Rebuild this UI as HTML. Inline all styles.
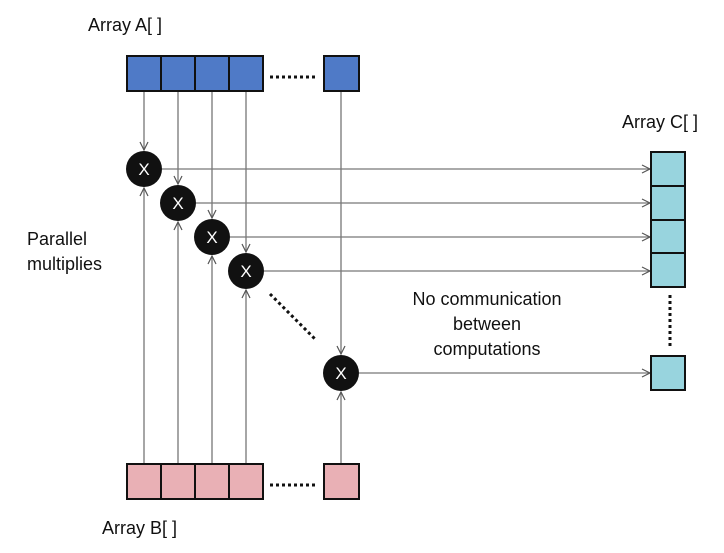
<!DOCTYPE html>
<html><head><meta charset="utf-8"><style>
html,body{margin:0;padding:0;background:#fff;}
svg{display:block;font-family:"Liberation Sans",sans-serif;}
</style></head><body>
<svg width="724" height="553" viewBox="0 0 724 553">
<defs>
<marker id="ah" markerWidth="10" markerHeight="10" refX="9" refY="5" orient="auto" markerUnits="userSpaceOnUse">
<path d="M1,1 L9,5 L1,9" fill="none" stroke="#555" stroke-width="1.2"/>
</marker>
</defs>
<g stroke="#777" stroke-width="1.3" fill="none">
<line x1="144" y1="91" x2="144" y2="150" marker-end="url(#ah)"/>
<line x1="178" y1="91" x2="178" y2="184" marker-end="url(#ah)"/>
<line x1="212" y1="91" x2="212" y2="218" marker-end="url(#ah)"/>
<line x1="246" y1="91" x2="246" y2="252" marker-end="url(#ah)"/>
<line x1="341" y1="91" x2="341" y2="354" marker-end="url(#ah)"/>
<line x1="144" y1="464" x2="144" y2="188" marker-end="url(#ah)"/>
<line x1="178" y1="464" x2="178" y2="222" marker-end="url(#ah)"/>
<line x1="212" y1="464" x2="212" y2="256" marker-end="url(#ah)"/>
<line x1="246" y1="464" x2="246" y2="290" marker-end="url(#ah)"/>
<line x1="341" y1="464" x2="341" y2="392" marker-end="url(#ah)"/>
<line x1="162" y1="169" x2="650" y2="169" marker-end="url(#ah)"/>
<line x1="196" y1="203" x2="650" y2="203" marker-end="url(#ah)"/>
<line x1="230" y1="237" x2="650" y2="237" marker-end="url(#ah)"/>
<line x1="264" y1="271" x2="650" y2="271" marker-end="url(#ah)"/>
<line x1="359" y1="373" x2="650" y2="373" marker-end="url(#ah)"/>
</g>
<g fill="#4f7ac7" stroke="#111" stroke-width="2">
<rect x="127" y="56" width="34" height="35"/><rect x="161" y="56" width="34" height="35"/>
<rect x="195" y="56" width="34" height="35"/><rect x="229" y="56" width="34" height="35"/>
<rect x="324" y="56" width="35" height="35"/>
</g>
<g fill="#e9b0b5" stroke="#111" stroke-width="2">
<rect x="127" y="464" width="34" height="35"/><rect x="161" y="464" width="34" height="35"/>
<rect x="195" y="464" width="34" height="35"/><rect x="229" y="464" width="34" height="35"/>
<rect x="324" y="464" width="35" height="35"/>
</g>
<g fill="#98d4de" stroke="#111" stroke-width="2">
<rect x="651" y="152" width="34" height="34"/><rect x="651" y="186" width="34" height="34"/>
<rect x="651" y="220" width="34" height="33"/><rect x="651" y="253" width="34" height="34"/>
<rect x="651" y="356" width="34" height="34"/>
</g>
<g stroke="#111" stroke-width="3" stroke-dasharray="3,3">
<line x1="270" y1="77" x2="316" y2="77"/>
<line x1="270" y1="485" x2="316" y2="485"/>
<line x1="670" y1="295" x2="670" y2="346"/>
<line x1="270" y1="294" x2="316" y2="340"/>
</g>
<g>
<circle cx="144" cy="169" r="18" fill="#111"/><circle cx="178" cy="203" r="18" fill="#111"/>
<circle cx="212" cy="237" r="18" fill="#111"/><circle cx="246" cy="271" r="18" fill="#111"/>
<circle cx="341" cy="373" r="18" fill="#111"/>
<g fill="#fff" font-size="17" text-anchor="middle">
<text x="144" y="175">X</text><text x="178" y="209">X</text><text x="212" y="243">X</text>
<text x="246" y="277">X</text><text x="341" y="379">X</text>
</g>
</g>
<g fill="#111" font-size="18">
<text x="88" y="31">Array A[ ]</text>
<text x="622" y="128">Array C[ ]</text>
<text x="102" y="534">Array B[ ]</text>
<text x="27" y="245">Parallel</text>
<text x="27" y="270">multiplies</text>
<g text-anchor="middle">
<text x="487" y="305">No communication</text>
<text x="487" y="330">between</text>
<text x="487" y="355">computations</text>
</g>
</g>
</svg>
</body></html>
